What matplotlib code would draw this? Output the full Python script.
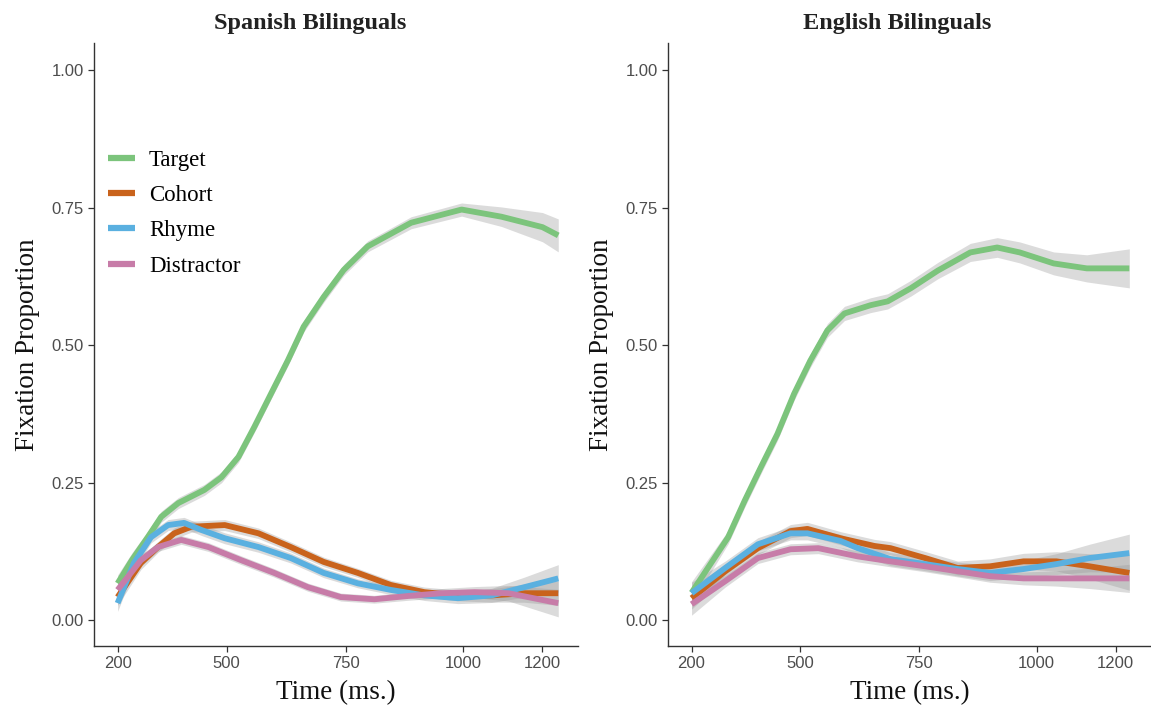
import matplotlib
matplotlib.use("Agg")
import matplotlib.pyplot as plt
import numpy as np

# tick values and where they sit along the axis (the axis is not linear)
tick_vals = [200, 500, 750, 1000, 1200]
tick_pos = [0, 109, 228, 346, 425]
y_ticks = [0.0, 0.25, 0.5, 0.75, 1.0]

series_names = ["Target", "Cohort", "Rhyme", "Distractor"]
series_colors = ["#7cc47c", "#c9631c", "#5ab0e0", "#c77ca8"]

# Spanish bilinguals
sp_target_t = [200, 240, 283, 320, 367, 439, 486, 525, 558, 594, 629, 662, 704, 746, 797, 889, 996, 1096, 1200, 1240]
sp_target_y = [0.067, 0.11, 0.151, 0.188, 0.213, 0.237, 0.26, 0.297, 0.351, 0.413, 0.473, 0.534, 0.588, 0.637, 0.68, 0.723, 0.747, 0.734, 0.715, 0.70]
sp_cohort_t = [200, 264, 311, 356, 403, 495, 567, 635, 704, 776, 846, 917, 988, 1071, 1154, 1240]
sp_cohort_y = [0.042, 0.104, 0.133, 0.158, 0.17, 0.173, 0.158, 0.133, 0.106, 0.086, 0.064, 0.051, 0.045, 0.045, 0.049, 0.049]
sp_rhyme_t = [200, 245, 292, 339, 383, 431, 495, 567, 635, 704, 776, 846, 917, 988, 1071, 1154, 1240]
sp_rhyme_y = [0.031, 0.104, 0.151, 0.173, 0.177, 0.164, 0.149, 0.133, 0.113, 0.086, 0.067, 0.055, 0.045, 0.04, 0.045, 0.06, 0.076]
sp_distr_t = [200, 264, 311, 375, 450, 531, 600, 671, 740, 811, 883, 953, 1028, 1114, 1240]
sp_distr_y = [0.055, 0.109, 0.133, 0.146, 0.133, 0.109, 0.086, 0.06, 0.042, 0.038, 0.044, 0.049, 0.051, 0.049, 0.031]

# English bilinguals
en_target_t = [200, 250, 301, 347, 391, 437, 483, 521, 557, 593, 648, 684, 733, 790, 859, 916, 964, 1043, 1127, 1235]
en_target_y = [0.05, 0.10, 0.151, 0.218, 0.278, 0.339, 0.412, 0.472, 0.527, 0.558, 0.573, 0.58, 0.604, 0.636, 0.669, 0.678, 0.669, 0.649, 0.64, 0.64]
en_cohort_t = [200, 293, 383, 473, 515, 585, 656, 690, 763, 832, 901, 972, 1050, 1134, 1235]
en_cohort_y = [0.04, 0.089, 0.131, 0.162, 0.166, 0.149, 0.135, 0.131, 0.113, 0.095, 0.098, 0.107, 0.107, 0.098, 0.086]
en_rhyme_t = [200, 293, 383, 473, 515, 585, 621, 690, 763, 832, 901, 972, 1050, 1134, 1235]
en_rhyme_y = [0.049, 0.095, 0.138, 0.158, 0.158, 0.144, 0.131, 0.111, 0.102, 0.093, 0.086, 0.093, 0.102, 0.113, 0.122]
en_distr_t = [200, 293, 383, 473, 538, 621, 690, 763, 832, 901, 972, 1050, 1134, 1235]
en_distr_y = [0.029, 0.071, 0.113, 0.129, 0.131, 0.116, 0.107, 0.098, 0.089, 0.080, 0.076, 0.076, 0.076, 0.076]

# half width of the grey confidence band, read at a few times
se_t = [200, 300, 500, 800, 1000, 1100, 1240]
sp_se = [
    [0.015, 0.01, 0.01, 0.01, 0.012, 0.018, 0.03],
    [0.015, 0.01, 0.01, 0.008, 0.01, 0.013, 0.022],
    [0.015, 0.01, 0.01, 0.008, 0.01, 0.014, 0.025],
    [0.015, 0.008, 0.008, 0.007, 0.009, 0.013, 0.025],
]
en_se = [
    [0.02, 0.012, 0.012, 0.015, 0.02, 0.022, 0.036],
    [0.02, 0.012, 0.012, 0.012, 0.015, 0.02, 0.032],
    [0.02, 0.012, 0.012, 0.012, 0.016, 0.022, 0.035],
    [0.02, 0.01, 0.01, 0.01, 0.012, 0.016, 0.026],
]


def fwd(x):
    x = np.atleast_1d(np.asarray(x, dtype=float))
    out = np.interp(x, tick_vals, tick_pos)
    s0 = (tick_pos[1] - tick_pos[0]) / (tick_vals[1] - tick_vals[0])
    s1 = (tick_pos[-1] - tick_pos[-2]) / (tick_vals[-1] - tick_vals[-2])
    lo = x < tick_vals[0]
    hi = x > tick_vals[-1]
    out[lo] = tick_pos[0] + (x[lo] - tick_vals[0]) * s0
    out[hi] = tick_pos[-1] + (x[hi] - tick_vals[-1]) * s1
    return out


def inv(p):
    p = np.atleast_1d(np.asarray(p, dtype=float))
    out = np.interp(p, tick_pos, tick_vals)
    s0 = (tick_vals[1] - tick_vals[0]) / (tick_pos[1] - tick_pos[0])
    s1 = (tick_vals[-1] - tick_vals[-2]) / (tick_pos[-1] - tick_pos[-2])
    lo = p < tick_pos[0]
    hi = p > tick_pos[-1]
    out[lo] = tick_vals[0] + (p[lo] - tick_pos[0]) * s0
    out[hi] = tick_vals[-1] + (p[hi] - tick_pos[-1]) * s1
    return out


def draw_panel(ax, data, se):
    for (t, y), s, col, name in zip(data, se, series_colors, series_names):
        t = np.array(t)
        y = np.array(y)
        half = np.interp(t, se_t, s)
        ax.fill_between(t, y - half, y + half, color="0.6", alpha=0.35, lw=0)
        ax.plot(t, y, color=col, lw=4.2, solid_capstyle="butt", label=name)
    ax.set_xscale("function", functions=(fwd, inv))
    ax.set_xlim(135, 1290)
    ax.set_ylim(-0.047, 1.05)
    ax.set_xticks(tick_vals)
    ax.set_xticklabels([str(v) for v in tick_vals])
    ax.set_yticks(y_ticks)
    ax.set_yticklabels(["%.2f" % v for v in y_ticks])
    ax.minorticks_off()
    for side in ["top", "right"]:
        ax.spines[side].set_visible(False)
    for side in ["left", "bottom"]:
        ax.spines[side].set_color("#333333")
        ax.spines[side].set_linewidth(1.0)
    ax.tick_params(length=4, width=0.9, color="#333333", labelcolor="#4d4d4d",
                   labelsize=12, labelfontfamily="Liberation Sans")
    ax.set_xlabel("Time (ms.)", family="Liberation Serif", fontsize=19.5, color="#111111", labelpad=6)
    ax.set_ylabel("Fixation Proportion", family="Liberation Serif", fontsize=19.5, color="#111111", labelpad=8)


fig = plt.figure(figsize=(11.51, 7.06), dpi=100)
ax1 = fig.add_axes([94 / 1151, 60 / 706, 484 / 1151, 603 / 706])
ax2 = fig.add_axes([668 / 1151, 60 / 706, 483 / 1151, 603 / 706])

sp_data = [(sp_target_t, sp_target_y), (sp_cohort_t, sp_cohort_y),
           (sp_rhyme_t, sp_rhyme_y), (sp_distr_t, sp_distr_y)]
en_data = [(en_target_t, en_target_y), (en_cohort_t, en_cohort_y),
           (en_rhyme_t, en_rhyme_y), (en_distr_t, en_distr_y)]

draw_panel(ax1, sp_data, sp_se)
draw_panel(ax2, en_data, en_se)

fig.text(310 / 1151, 1 - 23 / 706, "Spanish Bilinguals", ha="center", va="center",
         family="Liberation Serif", weight="bold", fontsize=17.5, color="#222222")
fig.text(897 / 1151, 1 - 23 / 706, "English Bilinguals", ha="center", va="center",
         family="Liberation Serif", weight="bold", fontsize=17.5, color="#222222")

leg = ax1.legend(loc="upper left", bbox_to_anchor=(0.028, 0.823), frameon=False,
                 prop={"family": "Liberation Serif", "size": 16.5},
                 handlelength=1.2, handletextpad=0.6, labelspacing=0.62,
                 borderaxespad=0, borderpad=0)
for h in leg.get_lines():
    h.set_linewidth(4.5)

fig.savefig("out.png", dpi=100)
